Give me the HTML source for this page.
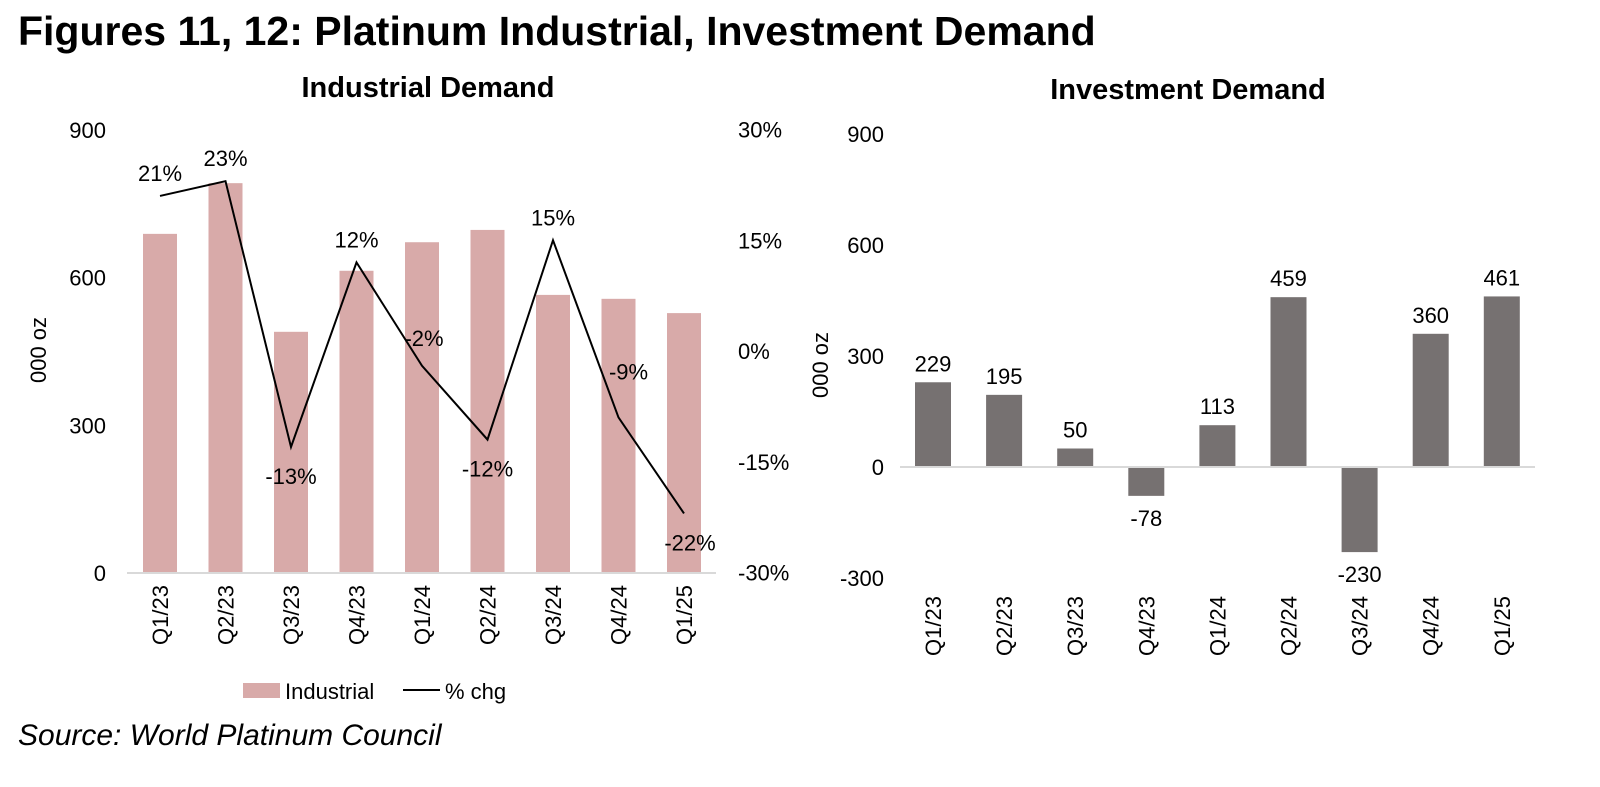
<!DOCTYPE html>
<html><head><meta charset="utf-8"><style>
body{margin:0;background:#fff;width:1600px;height:782px;overflow:hidden;font-family:"Liberation Sans",Arial,sans-serif}
svg text{font-family:"Liberation Sans",Arial,sans-serif}
</style></head><body>
<svg id="c" width="1600" height="782">
<text x="18" y="45" font-size="41" font-weight="bold">Figures 11, 12: Platinum Industrial, Investment Demand</text>
<text x="428" y="97" font-size="29" font-weight="bold" text-anchor="middle">Industrial Demand</text>
<text x="1188" y="99" font-size="29" font-weight="bold" text-anchor="middle">Investment Demand</text>
<text x="18" y="745" font-size="30" font-style="italic">Source: World Platinum Council</text>
<text transform="translate(46,350) rotate(-90)" font-size="22" text-anchor="middle">000 oz</text>
<text transform="translate(828,365) rotate(-90)" font-size="22" text-anchor="middle">000 oz</text>
<g id="left"></g><g id="right"></g>
<rect x="243" y="683" width="37" height="15" fill="#d8aaa9"/>
<text x="285" y="699" font-size="22">Industrial</text>
<line x1="403" y1="690" x2="440" y2="690" stroke="#000" stroke-width="2"/>
<text x="445" y="699" font-size="22">% chg</text>
</svg>
<script>
const categories=["Q1/23","Q2/23","Q3/23","Q4/23","Q1/24","Q2/24","Q3/24","Q4/24","Q1/25"];
const industrial=[689,792,490,614,672,697,565,557,528];
const pctChg=[21,23,-13,12,-2,-12,15,-9,-22];
const investment=[229,195,50,-78,113,459,-230,360,461];
const leftTicks=[0,300,600,900];
const pctTicks=[-30,-15,0,15,30];
const rightTicks=[-300,0,300,600,900];
const NS="http://www.w3.org/2000/svg";
function mk(p,t,a){const e=document.createElementNS(NS,t);for(const k in a)e.setAttribute(k,a[k]);p.appendChild(e);return e;}
const L=document.getElementById('left');
const lx=i=>160+i*65.5, ly=v=>573-v/900*443, py=v=>351-v/30*221.5;
leftTicks.forEach(t=>{const e=mk(L,'text',{x:106,y:ly(t)+8,'font-size':22,'text-anchor':'end'});e.textContent=t;

});
pctTicks.forEach(t=>{const e=mk(L,'text',{x:738,y:py(t)+8,'font-size':22});e.textContent=t+'%';

});
industrial.forEach((v,i)=>{const r=mk(L,'rect',{x:lx(i)-17,y:ly(v),width:34,height:ly(0)-ly(v),fill:'#d8aaa9'});

});
const ax=mk(L,'line',{x1:127,x2:716,y1:573,y2:573,stroke:'#d9d9d9','stroke-width':2});


const pl=mk(L,'polyline',{points:pctChg.map((v,i)=>lx(i)+','+py(v)).join(' '),fill:'none',stroke:'#000','stroke-width':2});


pctChg.forEach((v,i)=>{
let y=v>=0?py(v)-15:py(v)+37; if(i==4)y=py(v)-20; if(i==7)y=py(v)-38;
let x=lx(i)+(i==4?2:0)+(i==8?6:0)+(i==7?10:0);
const e=mk(L,'text',{x:x,y:y,'font-size':22,'text-anchor':'middle'});e.textContent=v+'%';

});
categories.forEach((c,i)=>{const e=mk(L,'text',{transform:`translate(${lx(i)+8},585) rotate(-90)`,'font-size':22,'text-anchor':'end'});e.textContent=c;

});
const R=document.getElementById('right');
const rx=i=>933+i*71.1, ry=v=>467-v*111/300;
rightTicks.forEach(t=>{const e=mk(R,'text',{x:884,y:ry(t)+8,'font-size':22,'text-anchor':'end'});e.textContent=t;

});
investment.forEach((v,i)=>{const r=mk(R,'rect',{x:rx(i)-18,y:Math.min(ry(v),ry(0)),width:36,height:Math.abs(ry(v)-ry(0)),fill:'#767171'});


const e=mk(R,'text',{x:rx(i),y:v>=0?ry(v)-11:ry(v)+30,'font-size':22,'text-anchor':'middle'});e.textContent=v;

});
const ax2=mk(R,'line',{x1:900,x2:1535,y1:467,y2:467,stroke:'#d9d9d9','stroke-width':2});


categories.forEach((c,i)=>{const e=mk(R,'text',{transform:`translate(${rx(i)+8},596) rotate(-90)`,'font-size':22,'text-anchor':'end'});e.textContent=c;

});
</script>
</body></html>
